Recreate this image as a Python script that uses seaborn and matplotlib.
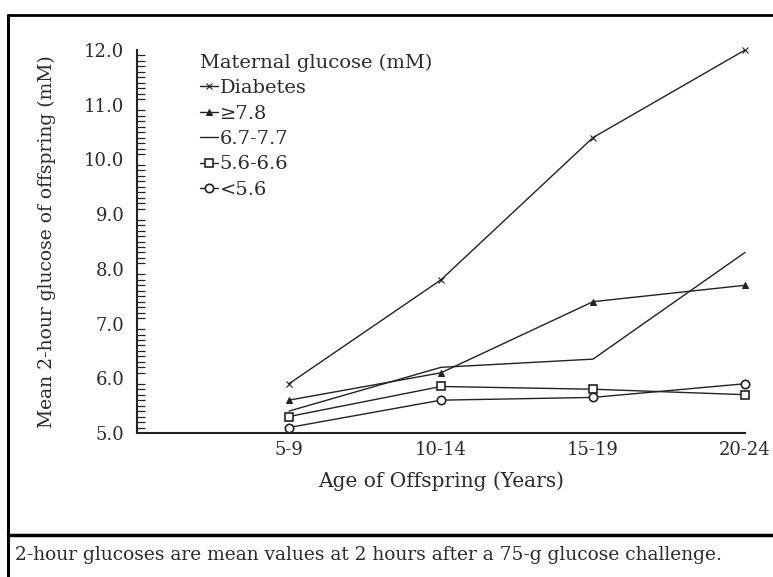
import matplotlib
matplotlib.use("Agg")
import matplotlib.pyplot as plt
import seaborn as sns
import pandas as pd
from matplotlib.lines import Line2D
from matplotlib.ticker import MultipleLocator

ages = ["5-9", "10-14", "15-19", "20-24"]
groups = ["Diabetes", "\u22657.8", "6.7-7.7", "5.6-6.6", "<5.6"]
diabetes = [5.9, 7.8, 10.4, 12.0]
ge_7_8 = [5.6, 6.1, 7.4, 7.7]
g_6_7 = [5.4, 6.2, 6.35, 8.3]
g_5_6 = [5.3, 5.85, 5.8, 5.7]
lt_5_6 = [5.1, 5.6, 5.65, 5.9]

series = [diabetes, ge_7_8, g_6_7, g_5_6, lt_5_6]
styles = [
    dict(marker="x", markersize=5, markeredgewidth=0.8),
    dict(marker="^", markersize=4, markerfacecolor="#222222"),
    dict(marker=None),
    dict(marker="s", markersize=6, markerfacecolor="white", markeredgewidth=1.2),
    dict(marker="o", markersize=6, markerfacecolor="white", markeredgewidth=1.2),
]

df = pd.DataFrame({
    "age": ages * len(groups),
    "glucose": [v for s in series for v in s],
    "group": [g for g in groups for _ in ages],
})

sns.set_theme(style="white")
plt.rcParams["font.family"] = ["DejaVu Serif", "DejaVu Sans"]
txt = "#2a2a2a"

fig = plt.figure(figsize=(7.73, 5.77), dpi=100)
ax = fig.add_axes([0.1772, 0.2496, 0.7866, 0.6637])

for g, st in zip(groups, styles):
    sub = df[df["group"] == g]
    sns.lineplot(data=sub, x="age", y="glucose", ax=ax, color="#222222",
                 linewidth=1.0, markeredgecolor="#222222", label=g,
                 clip_on=False, **st)

ax.set_xlim(-1, 3)
ax.set_ylim(5.0, 12.0)
ax.yaxis.set_minor_locator(MultipleLocator(0.1))
ax.set_yticks([5, 6, 7, 8, 9, 10, 11, 12])
ax.set_yticklabels([f"{v:.1f}" for v in ax.get_yticks()])
ax.set_xticks(range(len(ages)))
ax.set_xticklabels(ages)

for s in ["top", "right"]:
    ax.spines[s].set_visible(False)
for s in ["left", "bottom"]:
    ax.spines[s].set_color("#222222")
    ax.spines[s].set_linewidth(1.5)

ax.tick_params(axis="y", which="major", direction="in", length=8, width=1.2,
               labelsize=13, colors="#222222", labelcolor=txt, pad=9)
ax.tick_params(axis="y", which="minor", direction="in", length=5.5, width=0.9,
               colors="#222222", left=True)
ax.tick_params(axis="x", which="major", direction="in", length=8, width=1.2,
               labelsize=13, colors="#222222", labelcolor=txt, pad=6)
ax.tick_params(axis="x", which="minor", bottom=False)

ax.set_xlabel("Age of Offspring (Years)", fontsize=14.5, color=txt, labelpad=9)
ax.set_ylabel("Mean 2-hour glucose of offspring (mM)", fontsize=13.5,
              color=txt, labelpad=20)

leg = ax.legend(title="Maternal glucose (mM)", loc="upper left",
                bbox_to_anchor=(0.088, 1.016), frameon=False, fontsize=14,
                title_fontsize=14, handlelength=0.9, handletextpad=0.1,
                labelspacing=0.38, borderpad=0, alignment="left")
for t in leg.get_texts():
    t.set_color(txt)
leg.get_title().set_color(txt)

# outer frame and footer separator
fig.add_artist(Line2D([8 / 773, 8 / 773], [0, 1 - 15 / 577], color="black", linewidth=2.2))
fig.add_artist(Line2D([8 / 773, 1], [1 - 15 / 577, 1 - 15 / 577], color="black", linewidth=2))
fig.add_artist(Line2D([8 / 773, 1], [1 - 535 / 577, 1 - 535 / 577], color="black", linewidth=2.5))
fig.text(15 / 773, 1 - 555 / 577,
         "2-hour glucoses are mean values at 2 hours after a 75-g glucose challenge.",
         fontsize=13.4, color=txt, va="center", ha="left")

fig.savefig("out.png", dpi=100, facecolor="white")
